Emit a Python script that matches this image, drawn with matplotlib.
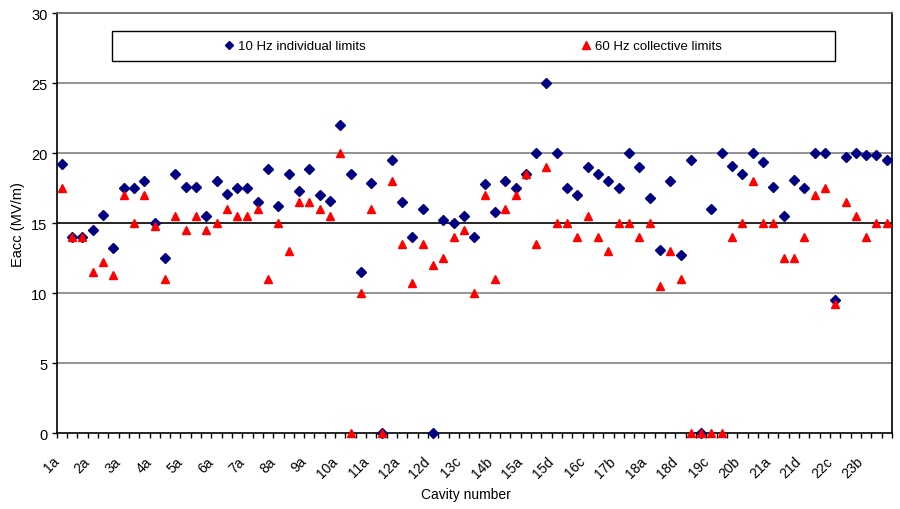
import matplotlib
matplotlib.use('Agg')
import matplotlib.pyplot as plt
from matplotlib.patches import Rectangle
import numpy as np

# cavity names: modules 1-11 have three cavities, modules 12-23 have four
cavities = ['1a', '1b', '1c', '2a', '2b', '2c', '3a', '3b', '3c',
            '4a', '4b', '4c', '5a', '5b', '5c', '6a', '6b', '6c',
            '7a', '7b', '7c', '8a', '8b', '8c', '9a', '9b', '9c',
            '10a', '10b', '10c', '11a', '11b', '11c',
            '12a', '12b', '12c', '12d', '13a', '13b', '13c', '13d',
            '14a', '14b', '14c', '14d', '15a', '15b', '15c', '15d',
            '16a', '16b', '16c', '16d', '17a', '17b', '17c', '17d',
            '18a', '18b', '18c', '18d', '19a', '19b', '19c', '19d',
            '20a', '20b', '20c', '20d', '21a', '21b', '21c', '21d',
            '22a', '22b', '22c', '22d', '23a', '23b', '23c', '23d']

# gradient limits (MV/m)
hz10_individual = [19.2, 14.0, 14.0, 14.5, 15.6, 13.2, 17.5, 17.5, 18.0,
                   15.0, 12.5, 18.5, 17.6, 17.6, 15.5, 18.0, 17.1, 17.5,
                   17.5, 16.5, 18.9, 16.2, 18.5, 17.3, 18.9, 17.0, 16.6,
                   22.0, 18.5, 11.5, 17.9, 0.0, 19.5,
                   16.5, 14.0, 16.0, 0.0, 15.2, 15.0, 15.5, 14.0,
                   17.8, 15.8, 18.0, 17.5, 18.5, 20.0, 25.0, 20.0,
                   17.5, 17.0, 19.0, 18.5, 18.0, 17.5, 20.0, 19.0,
                   16.8, 13.1, 18.0, 12.7, 19.5, 0.0, 16.0, 20.0,
                   19.1, 18.5, 20.0, 19.4, 17.6, 15.5, 18.1, 17.5,
                   20.0, 20.0, 9.5, 19.7, 20.0, 19.9, 19.9, 19.5]

hz60_collective = [17.5, 14.0, 14.0, 11.5, 12.2, 11.3, 17.0, 15.0, 17.0,
                   14.8, 11.0, 15.5, 14.5, 15.5, 14.5, 15.0, 16.0, 15.5,
                   15.5, 16.0, 11.0, 15.0, 13.0, 16.5, 16.5, 16.0, 15.5,
                   20.0, 0.0, 10.0, 16.0, 0.0, 18.0,
                   13.5, 10.7, 13.5, 12.0, 12.5, 14.0, 14.5, 10.0,
                   17.0, 11.0, 16.0, 17.0, 18.5, 13.5, 19.0, 15.0,
                   15.0, 14.0, 15.5, 14.0, 13.0, 15.0, 15.0, 14.0,
                   15.0, 10.5, 13.0, 11.0, 0.0, 0.0, 0.0, 0.0,
                   14.0, 15.0, 18.0, 15.0, 15.0, 12.5, 12.5, 14.0,
                   17.0, 17.5, 9.2, 16.5, 15.5, 14.0, 15.0, 15.0]

plt.rcParams['font.family'] = ['Liberation Sans', 'DejaVu Sans']
plt.rcParams['font.size'] = 10

fig = plt.figure(figsize=(9, 5.1), dpi=100)
ax = fig.add_axes([0.063, 0.149, 0.928, 0.823])

x = np.arange(len(cavities))
ax.plot(x, hz10_individual, 'D', color='#000080', ms=5, mec='#000080',
        label='10 Hz individual limits', clip_on=False, zorder=3)
ax.plot(x, hz60_collective, '^', color='#FF0000', ms=6, mec='#FF0000',
        label='60 Hz collective limits', clip_on=False, zorder=4)

ax.set_xlim(-0.5, len(cavities) - 0.5)
ax.set_ylim(0, 30)

# horizontal grid, the 15 MV/m line drawn darker
for v in (5, 10, 20, 25):
    ax.axhline(v, color='#808080', lw=1.2, zorder=1)
ax.axhline(15, color='black', lw=1.2, zorder=1)

for side in ('left', 'bottom', 'right'):
    ax.spines[side].set_color('black')
    ax.spines[side].set_linewidth(1.2)
ax.spines['top'].set_color('#606060')
ax.spines['top'].set_linewidth(1.2)

ax.set_yticks(range(0, 31, 5))
ax.tick_params(axis='y', length=3.6, width=1, direction='out', pad=3,
               labelsize=10.5)

# ticks between cavities, labels on every third one
ax.set_xticks(np.arange(-0.5, len(cavities), 1), minor=True)
ax.set_xticks(x[::3])
ax.set_xticklabels(cavities[::3], rotation=45, ha='right')
ax.tick_params(axis='x', which='minor', length=3.6, width=1, direction='out')
ax.tick_params(axis='x', which='major', length=0, pad=15)

ax.set_ylabel('Eacc (MV/m)', fontsize=10.5)
ax.yaxis.set_label_coords(-0.038, 0.5)
ax.set_xlabel('Cavity number')
ax.xaxis.set_label_coords(0.49, -0.128)

# legend box across the top of the plot
ax.add_patch(Rectangle((0.0662, 0.886), 0.8656, 0.072, transform=ax.transAxes,
                       facecolor='white', edgecolor='black', lw=1, zorder=5))
leg = ax.legend(loc='center', bbox_to_anchor=(0.499, 0.922), ncol=2,
                frameon=False, handlelength=0.6, handletextpad=0.4,
                columnspacing=16.4, fontsize=9.5, markerscale=0.85)
leg.set_zorder(6)

fig.savefig('out.png', dpi=100)
